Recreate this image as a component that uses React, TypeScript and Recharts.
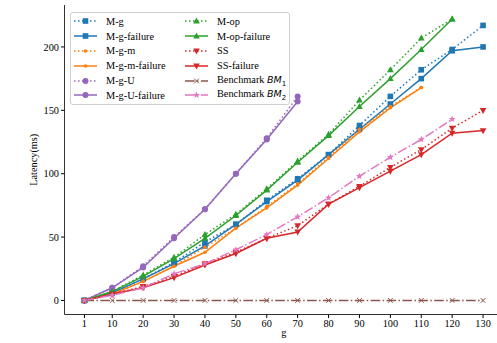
import React from "react";
import { Line, LineChart, XAxis, YAxis } from "recharts";

const gValues = [1, 10, 20, 30, 40, 50, 60, 70, 80, 90, 100, 110, 120, 130];
const yTicks = [0, 50, 100, 150, 200];

const mg = [0, 6, 17, 30, 46, 60, 79, 96, 115, 138, 161, 182, 198, 217];
const mgFailure = [0, 6, 17, 29, 43, 60, 78, 95, 115, 135, 155, 175, 197, 200];
const mgm = [0, 5, 15, 27, 42, 57, 74, 92, 113, 135, 153, 168];
const mgmFailure = [0, 5, 15, 27, 38, 57, 73, 91, 112, 133, 152, 168];
const mgU = [0, 10, 27, 50, 72, 100, 128, 161];
const mgUFailure = [0, 10, 26, 49, 72, 100, 127, 157];
const mop = [0, 7, 20, 34, 52, 68, 88, 110, 131, 158, 182, 207, 222];
const mopFailure = [0, 7, 19, 33, 49, 67, 87, 109, 130, 153, 175, 198, 222];
const ss = [0, 5, 11, 19, 29, 38, 49, 59, 76, 90, 105, 119, 136, 150];
const ssFailure = [0, 5, 10, 18, 28, 37, 49, 54, 76, 89, 102, 115, 132, 134];
const bm1 = [0, 0, 0, 0, 0, 0, 0, 0, 0, 0, 0, 0, 0, 0];
const bm2 = [0, 4, 10, 21, 29, 40, 52, 66, 81, 98, 113, 127, 143];

const BLUE = "#1f77b4";
const ORANGE = "#ff7f0e";
const GREEN = "#2ca02c";
const RED = "#d62728";
const PURPLE = "#9467bd";
const BROWN = "#8c564b";
const PINK = "#e377c2";

const DOTTED = "1.5 2.5";
const DASHDOT = "9.6 2.4 1.5 2.4";
const FONT = "'Liberation Serif', 'Times New Roman', serif";

type Shape = "square" | "point" | "circle" | "up" | "down" | "x" | "star";

const series: { key: string; name: React.ReactNode; values: number[]; color: string; dash?: string; shape: Shape }[] = [
  { key: "mg", name: "M-g", values: mg, color: BLUE, dash: DOTTED, shape: "square" },
  { key: "mgFailure", name: "M-g-failure", values: mgFailure, color: BLUE, shape: "square" },
  { key: "mgm", name: "M-g-m", values: mgm, color: ORANGE, dash: DOTTED, shape: "point" },
  { key: "mgmFailure", name: "M-g-m-failure", values: mgmFailure, color: ORANGE, shape: "point" },
  { key: "mgU", name: "M-g-U", values: mgU, color: PURPLE, dash: DOTTED, shape: "circle" },
  { key: "mgUFailure", name: "M-g-U-failure", values: mgUFailure, color: PURPLE, shape: "circle" },
  { key: "mop", name: "M-op", values: mop, color: GREEN, dash: DOTTED, shape: "up" },
  { key: "mopFailure", name: "M-op-failure", values: mopFailure, color: GREEN, shape: "up" },
  { key: "ss", name: "SS", values: ss, color: RED, dash: DOTTED, shape: "down" },
  { key: "ssFailure", name: "SS-failure", values: ssFailure, color: RED, shape: "down" },
  {
    key: "bm1",
    name: (
      <>
        Benchmark <i style={{ fontFamily: "'DejaVu Sans', sans-serif", fontSize: 9.5 }}>BM</i>
        <sub style={{ fontFamily: "'DejaVu Sans', sans-serif", fontSize: 7 }}>1</sub>
      </>
    ),
    values: bm1,
    color: BROWN,
    dash: DASHDOT,
    shape: "x",
  },
  {
    key: "bm2",
    name: (
      <>
        Benchmark <i style={{ fontFamily: "'DejaVu Sans', sans-serif", fontSize: 9.5 }}>BM</i>
        <sub style={{ fontFamily: "'DejaVu Sans', sans-serif", fontSize: 7 }}>2</sub>
      </>
    ),
    values: bm2,
    color: PINK,
    dash: DASHDOT,
    shape: "star",
  },
];

const data = gValues.map((g, i) => {
  const row: Record<string, number | null> = { g };
  series.forEach((s) => {
    row[s.key] = i < s.values.length ? s.values[i] : null;
  });
  return row;
});

function starPoints(cx: number, cy: number, r: number) {
  const pts: string[] = [];
  for (let i = 0; i < 10; i++) {
    const rad = i % 2 === 0 ? r : r * 0.45;
    const a = -Math.PI / 2 + (i * Math.PI) / 5;
    pts.push(`${cx + rad * Math.cos(a)},${cy + rad * Math.sin(a)}`);
  }
  return pts.join(" ");
}

function Marker({ cx, cy, shape, color }: { cx: number; cy: number; shape: Shape; color: string }) {
  switch (shape) {
    case "square":
      return <rect x={cx - 2.8} y={cy - 2.8} width={5.6} height={5.6} fill={color} />;
    case "point":
      return <circle cx={cx} cy={cy} r={1.8} fill={color} />;
    case "circle":
      return <circle cx={cx} cy={cy} r={3} fill={color} />;
    case "up":
      return <polygon points={`${cx},${cy - 3.6} ${cx - 3.3},${cy + 2.4} ${cx + 3.3},${cy + 2.4}`} fill={color} />;
    case "down":
      return <polygon points={`${cx},${cy + 3.6} ${cx - 3.3},${cy - 2.4} ${cx + 3.3},${cy - 2.4}`} fill={color} />;
    case "x":
      return (
        <path
          d={`M${cx - 2.4},${cy - 2.4}L${cx + 2.4},${cy + 2.4}M${cx - 2.4},${cy + 2.4}L${cx + 2.4},${cy - 2.4}`}
          stroke={color}
          strokeWidth={1}
        />
      );
    case "star":
      return <polygon points={starPoints(cx, cy, 3.6)} fill={color} />;
  }
}

function makeDot(shape: Shape, color: string) {
  return (p: any) => {
    if (p.cx == null || p.cy == null || p.value == null) return <g key={p.index} />;
    return (
      <g key={p.index}>
        <Marker cx={p.cx} cy={p.cy} shape={shape} color={color} />
      </g>
    );
  };
}

function LegendBox() {
  const rows = [0, 1, 2, 3, 4, 5];
  const cell = (s: (typeof series)[number]) => (
    <div key={s.key} style={{ display: "flex", alignItems: "center", height: 14.8 }}>
      <svg width={24} height={10} style={{ marginRight: 8, flexShrink: 0 }}>
        <line x1={0} y1={5} x2={23} y2={5} stroke={s.color} strokeWidth={1.5} strokeDasharray={s.dash} />
        <Marker cx={11.5} cy={5} shape={s.shape} color={s.color} />
      </svg>
      <span style={{ whiteSpace: "nowrap" }}>{s.name}</span>
    </div>
  );
  return (
    <div
      style={{
        position: "absolute",
        left: 70,
        top: 12,
        width: 220,
        height: 93,
        border: "1px solid #d0d0d0",
        borderRadius: 3,
        background: "rgba(255,255,255,0.8)",
        fontFamily: FONT,
        fontSize: 10.3,
        color: "#000",
        boxSizing: "border-box",
        display: "flex",
        paddingLeft: 3,
        paddingTop: 1,
      }}
    >
      <div style={{ width: 111 }}>{rows.map((i) => cell(series[i]))}</div>
      <div>{rows.map((i) => cell(series[i + 6]))}</div>
    </div>
  );
}

export default function App() {
  const tickStyle = { fontFamily: FONT, fontSize: 10.3, fill: "#000" };
  return (
    <div style={{ position: "fixed", left: 0, top: 0, width: 497, height: 343, overflow: "hidden", background: "#fff" }}>
      <LineChart width={516} height={343} data={data} margin={{ top: 5, right: 13, bottom: 0, left: 0 }}>
        <XAxis
          xAxisId="top"
          orientation="top"
          dataKey="g"
          type="number"
          domain={[-5.45, 136.45]}
          allowDataOverflow
          height={0}
          tick={false}
          tickLine={false}
          axisLine={{ stroke: "#333", strokeWidth: 1 }}
        />
        <XAxis
          dataKey="g"
          type="number"
          domain={[-5.45, 136.45]}
          ticks={gValues}
          interval={0}
          allowDataOverflow
          height={28.5}
          tickSize={3.5}
          tick={tickStyle}
          tickLine={{ stroke: "#000" }}
          axisLine={{ stroke: "#333", strokeWidth: 1 }}
          label={{ value: "g", position: "insideBottom", offset: 7, style: { fontFamily: FONT, fontSize: 10.3, fill: "#000" } }}
        />
        <YAxis
          width={64.5}
          domain={[-11.1, 233.1]}
          ticks={yTicks}
          allowDataOverflow
          tickSize={3.5}
          tick={tickStyle}
          tickLine={{ stroke: "#000" }}
          axisLine={{ stroke: "#333", strokeWidth: 1 }}
          label={(props: any) => {
            const vb = props.viewBox || { x: 0, y: 5, width: 64.5, height: 309 };
            const cy = vb.y + vb.height / 2;
            return (
              <text
                x={33}
                y={cy}
                transform={`rotate(-90 33 ${cy})`}
                textAnchor="middle"
                dominantBaseline="central"
                style={{ fontFamily: FONT, fontSize: 10.3, fill: "#000" }}
              >
                Latency(ms)
              </text>
            );
          }}
        />
        {series.map((s) => (
          <Line
            key={s.key}
            dataKey={s.key}
            type="linear"
            stroke={s.color}
            strokeWidth={1.5}
            strokeDasharray={s.dash}
            dot={makeDot(s.shape, s.color)}
            activeDot={false}
            isAnimationActive={false}
          />
        ))}
      </LineChart>
      <LegendBox />
    </div>
  );
}
